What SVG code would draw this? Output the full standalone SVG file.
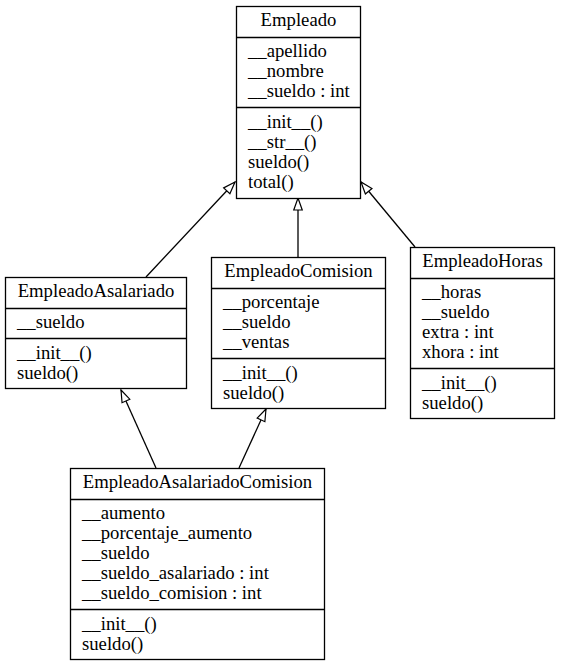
<svg xmlns="http://www.w3.org/2000/svg" width="561" height="667" viewBox="0 0 561 667" font-family="Liberation Serif, Times New Roman, DejaVu Serif, serif" font-size="18.7">
<defs>
<marker id="tri" viewBox="0 0 12 8.5" refX="12" refY="4.25" markerWidth="12" markerHeight="8.5" markerUnits="userSpaceOnUse" orient="auto" overflow="visible">
<path d="M0,0 L12,4.25 L0,8.5 Z" fill="#fff" stroke="#000" stroke-width="1.2"/>
</marker>
<style>
.box{fill:#fff;stroke:#000;stroke-width:1.3}
.div{stroke:#000;stroke-width:1.3}
.t{text-anchor:middle}
.edge{fill:none;stroke:#000;stroke-width:1.3;marker-end:url(#tri)}
</style>
</defs>
<rect width="561" height="667" fill="#fff"/>
<g id="connectors">
<path class="edge" d="M146,277 L235,182"/>
<path class="edge" d="M298,257 L298,198"/>
<path class="edge" d="M415,247 L361,182"/>
<path class="edge" d="M156,468 L121,390"/>
<path class="edge" d="M239,468 L266,409"/>
</g>
<g id="Empleado">
<rect class="box" x="236.5" y="6.5" width="124" height="192"/>
<line class="div" x1="236.5" y1="37.5" x2="360.5" y2="37.5"/>
<line class="div" x1="236.5" y1="107.5" x2="360.5" y2="107.5"/>
<text class="t" x="298.5" y="26">Empleado</text>
<text x="248" y="57">__apellido</text>
<text x="248" y="77">__nombre</text>
<text x="248" y="97">__sueldo : int</text>
<text x="248" y="128">__init__()</text>
<text x="248" y="148">__str__()</text>
<text x="248" y="168">sueldo()</text>
<text x="248" y="188">total()</text>
</g>
<g id="EmpleadoAsalariado">
<rect class="box" x="5.5" y="277.5" width="181" height="111"/>
<line class="div" x1="5.5" y1="308.5" x2="186.5" y2="308.5"/>
<line class="div" x1="5.5" y1="338.5" x2="186.5" y2="338.5"/>
<text class="t" x="96" y="297">EmpleadoAsalariado</text>
<text x="17" y="328">__sueldo</text>
<text x="17" y="359">__init__()</text>
<text x="17" y="379">sueldo()</text>
</g>
<g id="EmpleadoComision">
<rect class="box" x="211.5" y="257.5" width="174" height="151"/>
<line class="div" x1="211.5" y1="288.5" x2="385.5" y2="288.5"/>
<line class="div" x1="211.5" y1="358.5" x2="385.5" y2="358.5"/>
<text class="t" x="298.5" y="277">EmpleadoComision</text>
<text x="223" y="308">__porcentaje</text>
<text x="223" y="328">__sueldo</text>
<text x="223" y="348">__ventas</text>
<text x="223" y="379">__init__()</text>
<text x="223" y="399">sueldo()</text>
</g>
<g id="EmpleadoHoras">
<rect class="box" x="410.5" y="247.5" width="144" height="171"/>
<line class="div" x1="410.5" y1="278.5" x2="554.5" y2="278.5"/>
<line class="div" x1="410.5" y1="368.5" x2="554.5" y2="368.5"/>
<text class="t" x="482.5" y="267">EmpleadoHoras</text>
<text x="422" y="298">__horas</text>
<text x="422" y="318">__sueldo</text>
<text x="422" y="338">extra : int</text>
<text x="422" y="358">xhora : int</text>
<text x="422" y="389">__init__()</text>
<text x="422" y="409">sueldo()</text>
</g>
<g id="EmpleadoAsalariadoComision">
<rect class="box" x="70.5" y="468.5" width="254" height="191"/>
<line class="div" x1="70.5" y1="499.5" x2="324.5" y2="499.5"/>
<line class="div" x1="70.5" y1="609.5" x2="324.5" y2="609.5"/>
<text class="t" x="197.5" y="488">EmpleadoAsalariadoComision</text>
<text x="82" y="519">__aumento</text>
<text x="82" y="539">__porcentaje_aumento</text>
<text x="82" y="559">__sueldo</text>
<text x="82" y="579">__sueldo_asalariado : int</text>
<text x="82" y="599">__sueldo_comision : int</text>
<text x="82" y="630">__init__()</text>
<text x="82" y="650">sueldo()</text>
</g>
</svg>
